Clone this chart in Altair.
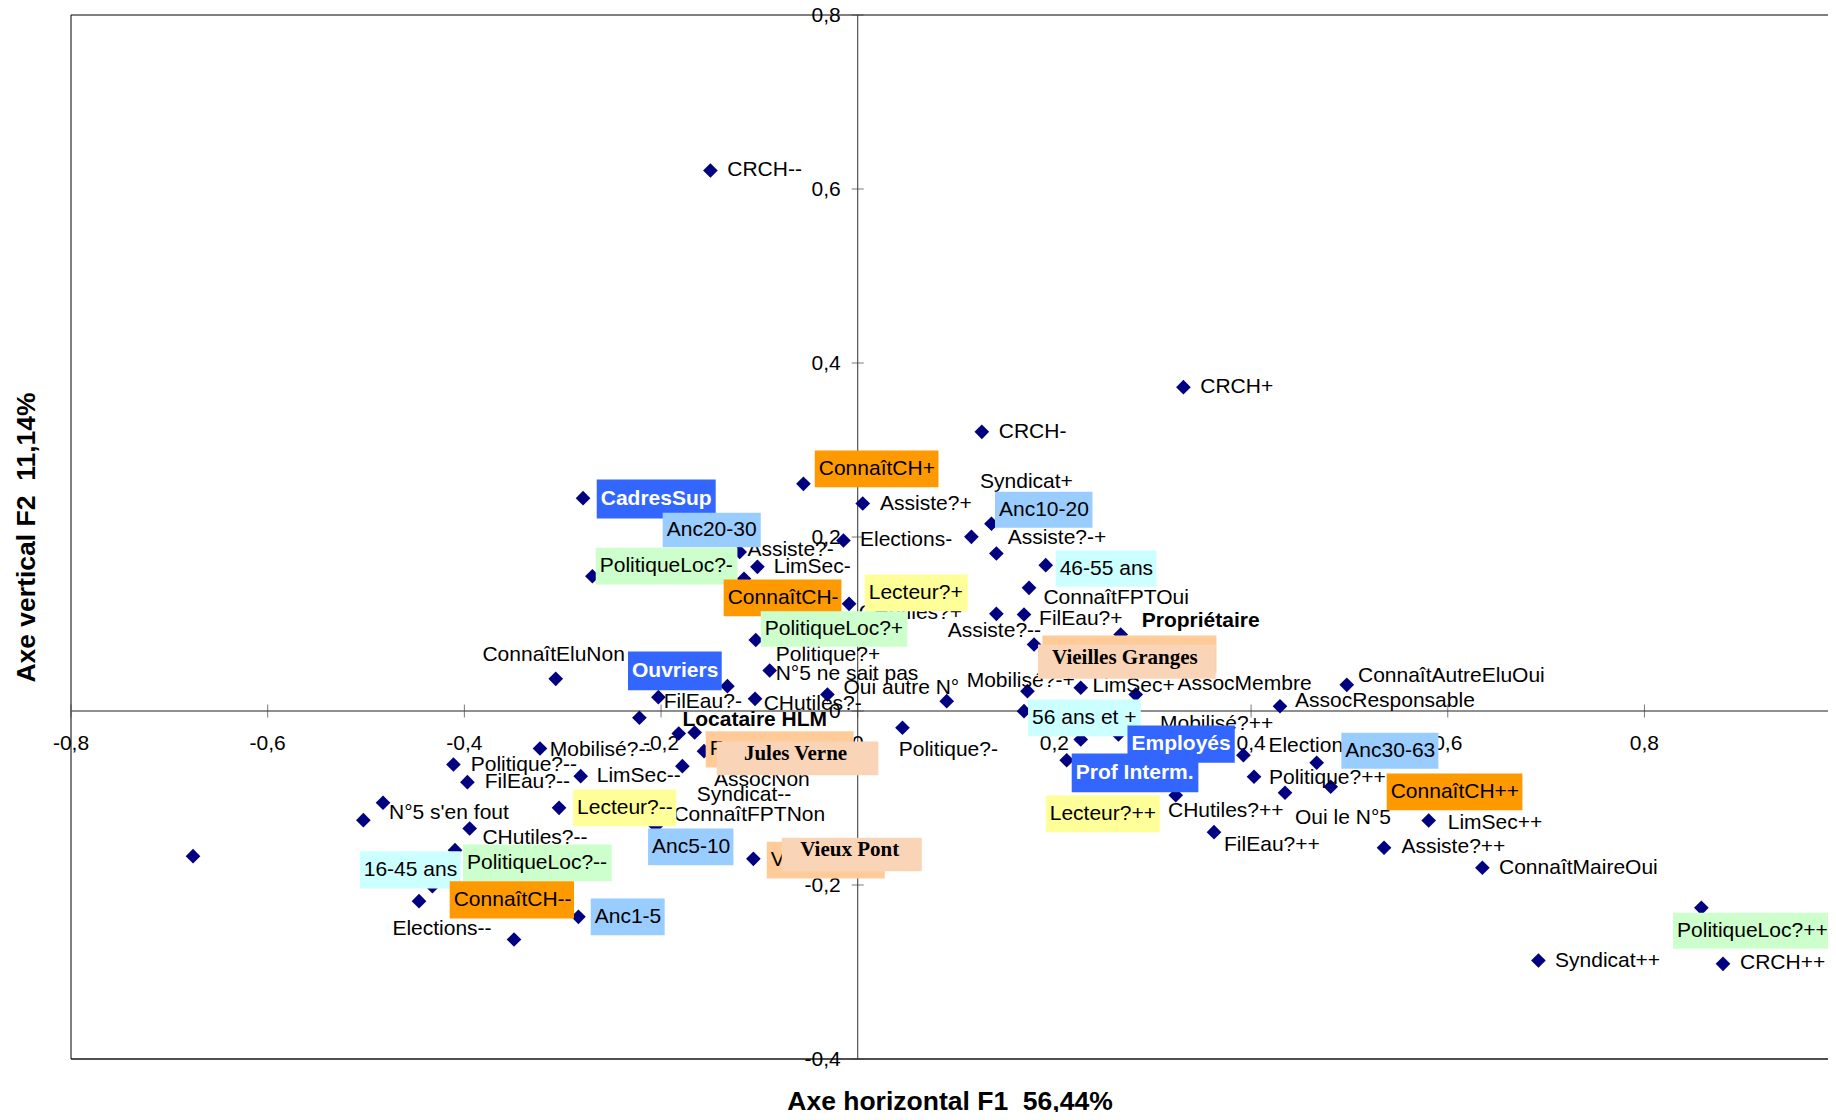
import altair as alt
import pandas as pd

SANS = "Liberation Sans, Arial, Helvetica, sans-serif"
SERIF = "Liberation Serif, Times New Roman, serif"

# ---------------- axis ticks ----------------
x_ticks = [-0.8, -0.6, -0.4, -0.2, 0.0, 0.2, 0.4, 0.6, 0.8, 1.0]
x_tick_labels = ["-0,8", "-0,6", "-0,4", "-0,2", "0", "0,2", "0,4", "0,6", "0,8", "1"]
y_ticks = [-0.4, -0.2, 0.0, 0.2, 0.4, 0.6, 0.8]
y_tick_labels = ["-0,4", "-0,2", "0", "0,2", "0,4", "0,6", "0,8"]

# ---------------- points with plain labels ----------------
lab_names = ["CRCH--", "CRCH+", "CRCH-", "Syndicat+", "Assiste?+", "Elections-", "Assiste?-+",
             "Assiste?-", "LimSec-", "CHutiles?+", "ConnaîtFPTOui", "FilEau?+", "Assiste?--",
             "Propriétaire", "Politique?+", "N°5 ne sait pas", "Oui autre N°", "Mobilisé?-+",
             "LimSec+", "AssocMembre", "ConnaîtAutreEluOui", "AssocResponsable", "Mobilisé?++",
             "FilEau?-", "CHutiles?-", "Locataire HLM", "ConnaîtEluNon", "Mobilisé?--",
             "Politique?--", "FilEau?--", "LimSec--", "N°5 s'en fout", "CHutiles?--",
             "Elections--", "AssocNon", "Syndicat--", "ConnaîtFPTNon", "Politique?-",
             "Elections++", "Politique?++", "Oui le N°5", "CHutiles?++", "FilEau?++",
             "LimSec++", "Assiste?++", "ConnaîtMaireOui", "Syndicat++", "CRCH++"]
lab_px = [-0.1498, 0.3312, 0.1262, 0.1156, 0.0051, -0.0145, 0.1410,
          -0.1200, -0.1020, -0.0088, 0.1742, 0.1691, 0.1410,
          0.2674, -0.1037, -0.0895, -0.0308, 0.1726,
          0.2268, 0.2827, 0.4973, 0.4294, 0.2651,
          -0.2027, -0.1044, -0.2220, -0.3071, -0.3231,
          -0.4111, -0.3969, -0.2817, -0.4827, -0.3946,
          -0.3495, -0.1563, -0.1783, -0.2054, 0.0455,
          0.3922, 0.4030, 0.4345, 0.3234, 0.3623,
          0.5806, 0.5352, 0.6352, 0.6922, 0.8799]
lab_py = [0.6213, 0.3722, 0.3209, 0.2002, 0.2385, 0.1960, 0.1810,
          0.1828, 0.1657, 0.1232, 0.1416, 0.1109, 0.1117,
          0.0879, 0.0816, 0.0466, 0.0190, 0.0228,
          0.0267, 0.0190, 0.0301, 0.0055, -0.0270,
          0.0159, 0.0140, -0.0078, 0.0370, -0.0431,
          -0.0615, -0.0818, -0.0749, -0.1055, -0.1351,
          -0.2626, -0.0462, -0.0634, -0.1324, -0.0193,
          -0.0508, -0.0756, -0.0940, -0.0968, -0.1393,
          -0.1259, -0.1572, -0.1802, -0.2868, -0.2906]
lab_lx = [-0.1327, 0.3483, 0.1434, 0.1244, 0.0227, 0.0023, 0.1525,
          -0.1122, -0.0854, 0.0010, 0.1888, 0.1844, 0.0915,
          0.2888, -0.0834, -0.0834, -0.0145, 0.1108,
          0.2387, 0.3251, 0.5087, 0.4447, 0.3074,
          -0.1973, -0.0956, -0.1783, -0.3816, -0.3132,
          -0.3935, -0.3793, -0.2654, -0.4766, -0.3816,
          -0.4732, -0.1461, -0.1637, -0.1874, 0.0417,
          0.4176, 0.4182, 0.4447, 0.3155, 0.3725,
          0.6000, 0.5529, 0.6521, 0.7091, 0.8972]
lab_ly = [0.6213, 0.3722, 0.3209, 0.2630, 0.2385, 0.1960, 0.1983,
          0.1856, 0.1657, 0.1132, 0.1301, 0.1063, 0.0925,
          0.1040, 0.0638, 0.0420, 0.0270, 0.0343,
          0.0285, 0.0305, 0.0408, 0.0115, -0.0155,
          0.0098, 0.0075, -0.0098, 0.0638, -0.0451,
          -0.0615, -0.0818, -0.0749, -0.1170, -0.1457,
          -0.2511, -0.0795, -0.0971, -0.1201, -0.0443,
          -0.0405, -0.0768, -0.1228, -0.1144, -0.1543,
          -0.1293, -0.1561, -0.1802, -0.2868, -0.2894]
bold_names = ["Propriétaire", "Locataire HLM"]

# points without a visible label
extra_x = [0.0905, -0.5027, -0.6759, -0.1820]
extra_y = [0.0113, -0.1255, -0.1669, -0.0259]

# ---------------- boxed labels ----------------
box_names = ["ConnaîtCH+", "CadresSup", "Anc20-30", "PolitiqueLoc?-", "ConnaîtCH-", "Lecteur?+",
             "PolitiqueLoc?+", "Ouvriers", "Anc10-20", "46-55 ans", "56 ans et +", "Employés",
             "Prof Interm.", "Lecteur?++", "Anc30-63", "ConnaîtCH++", "PolitiqueLoc?++",
             "Lecteur?--", "Anc5-10", "16-45 ans", "PolitiqueLoc?--", "ConnaîtCH--", "Anc1-5",
             "Vieilles Granges", "Jules Verne", "Vieux Pont"]
box_group = ["ConnaîtCH", "CSP", "Ancienneté", "PolitiqueLoc", "ConnaîtCH", "Lecteur",
             "PolitiqueLoc", "CSP", "Ancienneté", "Age", "Age", "CSP",
             "CSP", "Lecteur", "Ancienneté", "ConnaîtCH", "PolitiqueLoc",
             "Lecteur", "Ancienneté", "Age", "PolitiqueLoc", "ConnaîtCH", "Ancienneté",
             "Quartier", "Quartier", "Quartier"]
box_px = [-0.0552, -0.2793, -0.1485, -0.2698, -0.1156, 0.0595,
          -0.0244, -0.1325, 0.1360, 0.1912, 0.1691, 0.2268,
          0.2125, 0.2491, 0.4667, 0.4810, 0.8579,
          -0.3037, -0.1698, -0.4325, -0.4095, -0.4461, -0.2840,
          0.1793, -0.1658, -0.1061]
box_py = [0.2611, 0.2446, 0.2080, 0.1549, 0.1520, 0.1359,
          0.0943, 0.0285, 0.2152, 0.1676, -0.0002, -0.0328,
          -0.0566, -0.1182, -0.0595, -0.0871, -0.2262,
          -0.1113, -0.1561, -0.2014, -0.1600, -0.2186, -0.2366,
          0.0764, -0.0247, -0.1699]
box_x0 = [-0.0437, -0.2654, -0.1983, -0.2664, -0.1363, 0.0071,
          -0.0986, -0.2336, 0.1396, 0.2013, 0.1732, 0.2743,
          0.2176, 0.1912, 0.4918, 0.5379, 0.8291,
          -0.2895, -0.2132, -0.5064, -0.4014, -0.4149, -0.2715,
          0.1833, -0.1434, -0.0773]
box_x1 = [0.0821, -0.1444, -0.0986, -0.1223, -0.0166, 0.1119,
          0.0505, -0.1383, 0.2387, 0.3037, 0.2878, 0.3834,
          0.3464, 0.3071, 0.5905, 0.6759, 0.9901,
          -0.1844, -0.1264, -0.4037, -0.2502, -0.2885, -0.1963,
          0.3640, 0.0210, 0.0651]
box_top = [0.2994, 0.2661, 0.2278, 0.1876, 0.1511, 0.1569,
           0.1147, 0.0684, 0.2520, 0.1845, 0.0132, -0.0167,
           -0.0489, -0.0971, -0.0251, -0.0718, -0.2320,
           -0.0902, -0.1351, -0.1611, -0.1534, -0.1956, -0.2155,
           0.0764, -0.0351, -0.1457]
box_bot = [0.2572, 0.2213, 0.1883, 0.1454, 0.1090, 0.1147,
           0.0738, 0.0239, 0.2106, 0.1428, -0.0290, -0.0595,
           -0.0933, -0.1393, -0.0664, -0.1140, -0.2733,
           -0.1324, -0.1772, -0.2040, -0.1956, -0.2385, -0.2577,
           0.0370, -0.0738, -0.1841]

# second (underlying) labels of the neighbourhoods
under_text = ["", "F", "Vieux Pont"]
under_x0 = [0.1878, -0.1546, -0.0925]
under_x1 = [0.3648, -0.0041, 0.0275]
under_top = [0.0868, -0.0232, -0.1503]
under_bot = [0.0439, -0.0649, -0.1925]

# ---------------- styles ----------------
group_fill = {"ConnaîtCH": "#FF9900", "CSP": "#3366FF", "Ancienneté": "#99CCFF",
              "PolitiqueLoc": "#CCFFCC", "Lecteur": "#FFFF99", "Age": "#CCFFFF",
              "Quartier": "#FAD4B6"}
UNDER_FILL = "#FFCC99"

# ---------------- frames ----------------
labels_df = pd.DataFrame({"name": lab_names, "x": lab_px, "y": lab_py, "lx": lab_lx, "ly": lab_ly})
boxes_df = pd.DataFrame({"name": box_names, "group": box_group, "x": box_px, "y": box_py,
                         "x0": box_x0, "x1": box_x1, "top": box_top, "bot": box_bot})
boxes_df["cy"] = (boxes_df["top"] + boxes_df["bot"]) / 2
boxes_df["cx"] = (boxes_df["x0"] + boxes_df["x1"]) / 2
boxes_df["fill"] = boxes_df["group"].map(group_fill)
under_df = pd.DataFrame({"t": under_text, "x0": under_x0, "x1": under_x1,
                         "top": under_top, "bot": under_bot})
under_df["cy"] = (under_df["top"] + under_df["bot"]) / 2

points_df = pd.concat([
    labels_df[["x", "y"]],
    boxes_df[["x", "y"]],
    pd.DataFrame({"x": extra_x, "y": extra_y}),
], ignore_index=True)

xt_df = pd.DataFrame({"v": x_ticks, "z": 0.0, "lab": x_tick_labels})
yt_df = pd.DataFrame({"v": y_ticks, "z": 0.0, "lab": y_tick_labels})

# the original plot area runs past the right edge of the picture (x = 1 is just off-screen)
PLOT_W = 1757
X_MIN = -0.8
X_MAX = X_MIN + PLOT_W / 983.4
xs = alt.Scale(domain=[X_MIN, X_MAX], nice=False, zero=False)
ys = alt.Scale(domain=[-0.4, 0.8], nice=False, zero=False)
xaxis = alt.Axis(title="Axe horizontal F1\u00a0 56,44%", labels=False, ticks=False, domain=False,
                 grid=False, titleFontSize=26.5, titleFontWeight="bold", titleFont=SANS,
                 titleColor="#000000", titlePadding=29)
yaxis = alt.Axis(title="Axe vertical F2\u00a0 11,14%", labels=False, ticks=False, domain=False,
                 grid=False, titleFontSize=26.5, titleFontWeight="bold", titleFont=SANS,
                 titleColor="#000000", titlePadding=31)


def X(f):
    return alt.X(f"{f}:Q", scale=xs, axis=xaxis)


def Y(f):
    return alt.Y(f"{f}:Q", scale=ys, axis=yaxis)


def one(col, val):
    return pd.DataFrame({col: [val]})


frame_top = alt.Chart(one("y", 0.8)).mark_rule(color="#000000", strokeWidth=1).encode(y=Y("y"))
frame_bot = alt.Chart(one("y", -0.4)).mark_rule(color="#505050", strokeWidth=2).encode(y=Y("y"))
frame_left = alt.Chart(one("x", -0.8)).mark_rule(color="#000000", strokeWidth=1).encode(x=X("x"))
hline = alt.Chart(one("y", 0.0)).mark_rule(color="#6a6a6a", strokeWidth=1.5).encode(y=Y("y"))
vline = alt.Chart(one("x", 0.0)).mark_rule(color="#303030", strokeWidth=1).encode(x=X("x"))

xtick = alt.Chart(xt_df).mark_tick(orient="vertical", size=13, thickness=1, color="#404040").encode(
    x=X("v"), y=Y("z"))
ytick = alt.Chart(yt_df).mark_tick(orient="horizontal", size=12, thickness=1, color="#404040").encode(
    x=X("z"), y=Y("v"))
xlab = alt.Chart(xt_df).mark_text(dy=33, align="center", baseline="middle", fontSize=21, font=SANS,
                                  color="#000000").encode(x=X("v"), y=Y("z"), text="lab:N")
ylab = alt.Chart(yt_df).mark_text(dx=-17, dy=1, align="right", baseline="middle", fontSize=21, font=SANS,
                                  color="#000000").encode(x=X("z"), y=Y("v"), text="lab:N")

pts = alt.Chart(points_df).mark_point(shape="diamond", filled=True, size=215, color="#000080",
                                      opacity=1).encode(x=X("x"), y=Y("y"))

is_bold = labels_df["name"].isin(bold_names)
plain = alt.Chart(labels_df[~is_bold]).mark_text(align="left", baseline="middle", fontSize=21, font=SANS,
                                                 color="#000000").encode(x=X("lx"), y=Y("ly"), text="name:N")
plain_bold = alt.Chart(labels_df[is_bold]).mark_text(align="left", baseline="middle", fontSize=21, font=SANS,
                                                     fontWeight="bold", color="#000000").encode(
    x=X("lx"), y=Y("ly"), text="name:N")

under_rect = alt.Chart(under_df).mark_rect(color=UNDER_FILL).encode(
    x=X("x0"), x2="x1", y=Y("top"), y2="bot")
under_txt = alt.Chart(under_df[under_df["t"] != ""]).mark_text(
    align="left", baseline="middle", dx=4, fontSize=21, font=SANS, color="#000000").encode(
    x=X("x0"), y=Y("cy"), text="t:N")

rects = alt.Chart(boxes_df).mark_rect().encode(
    x=X("x0"), x2="x1", y=Y("top"), y2="bot", fill=alt.Fill("fill:N", scale=None))

reg_mask = ~boxes_df["group"].isin(["CSP", "Quartier"])
box_txt = alt.Chart(boxes_df[reg_mask]).mark_text(
    align="left", baseline="middle", dx=4, fontSize=21, font=SANS, color="#000000").encode(
    x=X("x0"), y=Y("cy"), text="name:N")
box_txt_csp = alt.Chart(boxes_df[boxes_df["group"] == "CSP"]).mark_text(
    align="left", baseline="middle", dx=4, fontSize=21, font=SANS, fontWeight="bold",
    color="#FFFFFF").encode(x=X("x0"), y=Y("cy"), text="name:N")
box_txt_q = alt.Chart(boxes_df[boxes_df["group"] == "Quartier"]).mark_text(
    align="center", baseline="middle", dx=-2, dy=-4, fontSize=21, font=SERIF, fontWeight="bold",
    color="#000000").encode(x=X("cx"), y=Y("cy"), text="name:N")

chart = alt.layer(
    frame_top, frame_bot, frame_left, hline, vline, xtick, ytick, xlab, ylab,
    pts, plain, plain_bold, under_rect, under_txt, rects, box_txt, box_txt_csp, box_txt_q
).properties(
    width=PLOT_W, height=1044,
    padding={"left": 63, "top": 7, "right": 0, "bottom": 53},
    autosize=alt.AutoSizeParams(type="none"),
    background="#FFFFFF",
).configure_view(stroke=None)

chart.save("out.html", embed_options={"renderer": "svg", "actions": False})
